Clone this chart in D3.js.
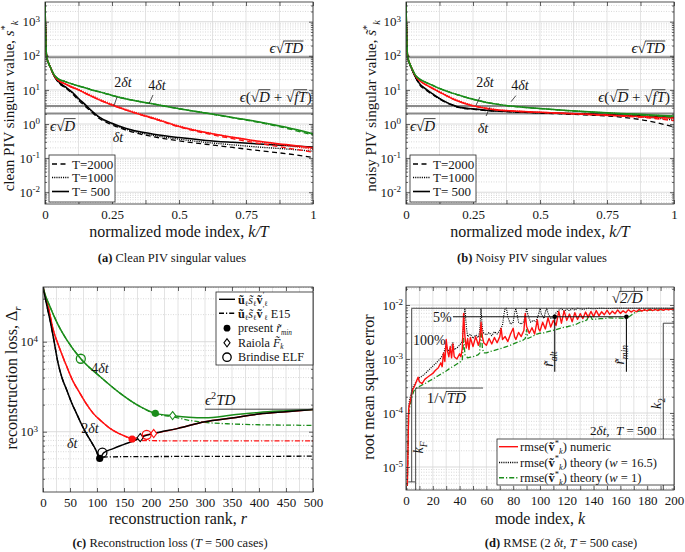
<!DOCTYPE html>
<html><head><meta charset="utf-8">
<script src="https://cdn.jsdelivr.net/npm/d3@7"></script>
<style>body{margin:0;background:#fff} text{white-space:pre}</style>
</head><body><svg id="c" width="685" height="552"></svg>
<script>
// ---------------- DATA ----------------
// panels (a),(b): normalized mode index k/T
const kT=[0,0.002,0.005,0.0075,0.012,0.02,0.035,0.05,0.075,0.1,0.125,0.15,0.175,0.2,0.25,0.3,0.35,0.4,0.5,0.6,0.7,0.8,0.9,1.0];
// (a) clean singular values
const aBlk500 =[3700,600,120,85,65,46,25,17.5,12.5,8.8,5.6,3.7,2.4,1.65,1.05,0.75,0.6,0.51,0.4,0.33,0.29,0.26,0.235,0.21];
const aBlk1000=[3700,600,120,85,65,46,25,17,12,8.4,5.3,3.5,2.3,1.58,1.0,0.71,0.56,0.47,0.36,0.29,0.245,0.21,0.185,0.16];
const aBlk2000=[3700,600,120,85,65,46,25,16.5,11.6,8.0,5.0,3.3,2.2,1.5,0.95,0.67,0.52,0.43,0.32,0.255,0.205,0.165,0.135,0.105];
const aRed500 =[3700,600,120,85,65,46,26,19,15,12,10,8,6.4,5.2,3.6,2.6,1.95,1.5,0.85,0.56,0.41,0.31,0.25,0.2];
const aRed1000=[3700,600,120,85,65,46,26,19.3,15.4,12.5,10.4,8.4,6.8,5.5,3.8,2.75,2.05,1.57,0.88,0.57,0.41,0.3,0.235,0.18];
const aRed2000=[3700,600,120,85,65,46,26,19,15,12,10,8,6.4,5.2,3.6,2.6,1.93,1.47,0.82,0.53,0.37,0.27,0.2,0.15];
const aGrn500 =[3700,600,120,85,65,46,27,21,17.5,15,13,11.5,10,8.9,6.9,5.5,4.6,3.9,2.8,2.1,1.55,1.15,0.8,0.52];
const aGrn1000=[3700,600,120,85,65,46,27,21,17.6,15.1,13.1,11.6,10.1,9.0,7.0,5.6,4.65,3.95,2.83,2.1,1.55,1.13,0.78,0.5];
const aGrn2000=[3700,600,120,85,65,46,27,21,17.5,15,13,11.5,10,8.9,6.9,5.5,4.6,3.9,2.8,2.08,1.52,1.1,0.75,0.47];
// (b) noisy singular values
const bBlk500 =[3700,600,120,85,62,44,24,15.5,10.5,7.6,5.6,4.4,3.6,3.1,2.8,2.55,2.4,2.3,2.15,2.05,1.95,1.85,1.7,1.55];
const bBlk1000=[3700,600,120,85,62,44,24,15,10.2,7.4,5.5,4.3,3.55,3.05,2.75,2.5,2.37,2.27,2.12,2.0,1.88,1.75,1.57,1.3];
const bBlk2000=[3700,600,120,85,62,44,24,14.5,9.8,7.2,5.4,4.2,3.5,3.0,2.7,2.47,2.35,2.25,2.1,1.95,1.8,1.6,1.25,0.82];
const bRed500 =[3700,600,120,85,65,46,26,19,14,11,8.6,6.8,5.4,4.5,3.4,2.85,2.55,2.4,2.2,2.05,1.9,1.75,1.62,1.5];
const bRed1000=[3700,600,120,85,65,46,26,19.3,14.4,11.4,9,7.1,5.7,4.7,3.55,2.95,2.6,2.43,2.22,2.07,1.91,1.76,1.6,1.42];
const bRed2000=[3700,600,120,85,65,46,26,19,14,11,8.6,6.8,5.4,4.5,3.4,2.85,2.55,2.38,2.18,2.02,1.86,1.7,1.52,1.25];
const bGrn500 =[3700,600,120,85,65,46,27,21,16.5,13.5,11,9.3,7.9,6.9,5.3,4.3,3.7,3.3,2.85,2.5,2.25,2.05,1.88,1.72];
const bGrn1000=[3700,600,120,85,65,46,27,21,16.6,13.6,11.1,9.4,8.0,7.0,5.35,4.35,3.72,3.3,2.85,2.5,2.24,2.03,1.85,1.68];
const bGrn2000=[3700,600,120,85,65,46,27,21,16.5,13.5,11,9.3,7.9,6.9,5.3,4.3,3.7,3.28,2.82,2.47,2.2,1.98,1.78,1.58];
// reference levels (a),(b)
const levelTD=90, levelDfT=3.4, levelD=2.05;

// (c) reconstruction loss vs rank r (T=500)
const cBlkR    =[0,5,10,13,20,28,35,44,53,62,71,80,90,98,105,112,130,150,170,180,190,205,250,300,350,400,450,500];
const cBlkSolid=[40000,29000,21000,17400,10500,5750,4000,2900,2100,1600,1220,960,760,625,505,580,650,723,802,860,905,955,1090,1290,1420,1570,1670,1770];
const cBlkDashR=[0,5,10,13,20,28,35,44,53,62,71,80,90,98,105,120,150,200,300,400,500];
const cBlkDash =[40000,29000,21000,17400,10500,5750,4000,2900,2100,1600,1220,960,760,625,520,525,528,530,532,533,535];
const cRedR    =[0,5,10,19,30,44,55,68.5,80,93,110,124,140,155,165,180,192,205,250,300,350,400,450,500];
const cRedSolid=[40000,31000,24000,13500,8700,5300,3700,2670,2050,1600,1280,1090,960,880,830,880,925,955,1090,1290,1420,1570,1670,1770];
const cRedDashR=[0,5,10,19,30,44,55,68.5,80,93,110,124,140,155,165,180,200,300,400,500];
const cRedDash =[40000,31000,24000,13500,8700,5300,3700,2670,2050,1600,1280,1090,960,870,820,800,795,790,790,790];
const cGrnR    =[0,5,13,20,28,44,70,106,143,180,208,240,270,300,350,400,450,500];
const cGrnSolid=[40000,32000,24500,19500,15400,10500,6470,4080,2670,1900,1600,1510,1450,1430,1530,1640,1710,1770];
const cGrnDash =[40000,32000,24500,19500,15400,10500,6470,4080,2670,1900,1580,1470,1340,1270,1220,1195,1185,1175];
const cMinR=[105,165,208],  cMinV=[505,830,1600];       // present r_min
const cRaiR=[180,205,240],  cRaiV=[860,955,1510];       // Raiola F_k
const cBriR=[110,192,70],   cBriV=[585,925,6470];       // Brindise ELF
const cLevelTD=1780;

// (d) RMSE vs mode index k, [k, value]
const dNumeric=[[1,4.5e-6],[2,1.2e-4],[3,1.6e-4],[4,2.1e-4],[5,2.7e-4],[6,3.0e-4],[7,3.4e-4],[8,4.0e-4],[9,4.6e-4],[10,3.8e-4],[12,3.5e-4],[14,4.2e-4],[16,4.6e-4],[18,5.0e-4],[20,5.4e-4],[22,6.2e-4],[24,6.8e-4],[26,8.5e-4],[27,7.2e-4],[28,1.3e-3],[29,9e-4],[30,2.3e-3],[31,1.4e-3],[32,1.1e-3],[33,1.7e-3],[34,1.05e-3],[35,1.9e-3],[36,1.1e-3],[38,1.0e-3],[40,1.25e-3],[41,1.1e-3],[42,1.6e-3],[43,7.0e-3],[44,2.6e-3],[45,1.6e-3],[46,2.4e-3],[47,1.5e-3],[48,2.5e-3],[50,1.7e-3],[52,2.6e-3],[54,1.8e-3],[55,2.2e-3],[56,4.8e-3],[57,2.6e-3],[58,2.0e-3],[60,1.8e-3],[62,2.4e-3],[64,1.9e-3],[66,2.5e-3],[68,2.0e-3],[70,2.6e-3],[71,3.7e-3],[72,2.3e-3],[74,2.6e-3],[76,2.1e-3],[78,2.9e-3],[80,3.7e-3],[81,2.6e-3],[82,2.3e-3],[84,3.1e-3],[86,2.6e-3],[88,3.4e-3],[89,7.0e-3],[90,4.0e-3],[92,3.0e-3],[94,3.8e-3],[96,2.9e-3],[98,5.3e-3],[99,3.6e-3],[100,3.3e-3],[102,4.8e-3],[104,3.6e-3],[106,5.8e-3],[108,3.9e-3],[110,5.2e-3],[112,4.2e-3],[114,7.6e-3],[116,4.6e-3],[118,7.8e-3],[120,5.2e-3],[122,6.8e-3],[124,4.9e-3],[126,7.2e-3],[128,5.4e-3],[130,6.9e-3],[132,5.6e-3],[134,7.4e-3],[136,5.9e-3],[138,7.6e-3],[140,6.1e-3],[142,7.9e-3],[144,6.3e-3],[146,7.5e-3],[148,6.6e-3],[150,8.0e-3],[152,6.7e-3],[154,7.7e-3],[156,6.9e-3],[158,8.1e-3],[160,7.0e-3],[162,7.8e-3],[164,7.2e-3],[166,8.2e-3],[168,7.4e-3],[170,8.0e-3],[172,7.5e-3],[174,8.3e-3],[176,7.7e-3],[178,8.2e-3],[180,7.8e-3],[182,8.4e-3],[184,7.9e-3],[186,8.3e-3],[188,7.9e-3],[190,8.4e-3],[192,8.0e-3],[194,8.4e-3],[196,8.1e-3],[198,8.5e-3],[200,8.2e-3]];
const dTheoryW16=[[1,4.5e-6],[2,1.4e-4],[3,1.9e-4],[4,2.4e-4],[5,2.9e-4],[6,3.3e-4],[8,3.9e-4],[10,4.5e-4],[12,4.8e-4],[14,5.3e-4],[16,5.9e-4],[18,6.6e-4],[20,7.4e-4],[22,8.2e-4],[24,9.2e-4],[26,1.05e-3],[28,1.25e-3],[30,1.9e-3],[31,1.4e-3],[33,1.55e-3],[35,2.0e-3],[36,1.5e-3],[38,1.6e-3],[40,1.8e-3],[42,2.1e-3],[43,4.5e-3],[44,8.7e-3],[45,4.0e-3],[46,2.6e-3],[48,2.9e-3],[50,2.4e-3],[52,2.8e-3],[54,2.5e-3],[55,3.2e-3],[56,8.7e-3],[57,3.6e-3],[58,3.0e-3],[60,2.8e-3],[62,3.1e-3],[64,2.7e-3],[66,3.2e-3],[68,2.9e-3],[70,3.4e-3],[72,4.2e-3],[73,6.5e-3],[74,8.7e-3],[75,8.7e-3],[76,6.0e-3],[78,4.4e-3],[80,4.8e-3],[81,7.0e-3],[82,8.7e-3],[83,6.5e-3],[84,4.8e-3],[86,4.4e-3],[88,5.0e-3],[89,6.5e-3],[90,8.7e-3],[91,6.5e-3],[93,4.8e-3],[95,5.2e-3],[97,4.9e-3],[99,6.8e-3],[100,8.7e-3],[101,6.8e-3],[103,5.6e-3],[104,7.5e-3],[105,8.7e-3],[106,7.0e-3],[108,5.6e-3],[110,5.9e-3],[112,7.2e-3],[114,8.0e-3],[116,8.7e-3],[118,7.6e-3],[120,8.4e-3],[122,7.8e-3],[124,8.6e-3],[126,8.0e-3],[128,8.7e-3],[132,8.3e-3],[136,8.7e-3],[140,8.5e-3],[145,8.7e-3],[150,8.6e-3],[160,8.7e-3],[170,8.7e-3],[180,8.7e-3],[190,8.7e-3],[200,8.7e-3]];
const dTheoryW1=[[1,4.5e-6],[2,1.0e-4],[3,1.4e-4],[4,1.8e-4],[5,2.2e-4],[6,2.6e-4],[8,2.9e-4],[10,3.1e-4],[12,3.3e-4],[15,3.6e-4],[18,4.0e-4],[21,4.4e-4],[24,4.9e-4],[27,5.4e-4],[30,6.0e-4],[33,6.8e-4],[36,7.5e-4],[39,8.4e-4],[41,9.0e-4],[42,9.5e-4],[43,2.4e-3],[44,1.2e-3],[46,1.05e-3],[48,1.08e-3],[50,1.1e-3],[52,1.15e-3],[54,1.2e-3],[55,1.3e-3],[56,4.3e-3],[57,1.6e-3],[58,1.3e-3],[60,1.3e-3],[63,1.38e-3],[66,1.45e-3],[69,1.52e-3],[72,1.6e-3],[75,1.7e-3],[78,1.8e-3],[81,1.95e-3],[84,2.1e-3],[87,2.2e-3],[89,2.4e-3],[90,3.5e-3],[91,2.4e-3],[94,2.6e-3],[97,2.85e-3],[100,3.0e-3],[103,3.05e-3],[106,3.2e-3],[109,3.35e-3],[112,3.5e-3],[115,3.7e-3],[118,3.85e-3],[121,4.0e-3],[124,4.2e-3],[127,4.4e-3],[130,4.8e-3],[133,5.0e-3],[135,5.3e-3],[137,6.8e-3],[139,5.4e-3],[142,5.5e-3],[145,5.6e-3],[148,5.6e-3],[152,5.8e-3],[156,5.7e-3],[160,5.7e-3],[164,5.6e-3],[167,6.2e-3],[170,7.0e-3],[173,7.6e-3],[176,7.9e-3],[180,8.0e-3],[185,8.1e-3],[190,8.2e-3],[195,8.3e-3],[200,8.3e-3]];
const dLevelTop=0.0087, dLevelTD=2.9e-4, dLevel5=6.05e-3, dLevelK2=0.0046;
const dRalt=111, dRmin=164.5, dKF=7.2, dK2=192, dKtop=4.25;

// ---------------- RENDER ----------------
const FONT='"Liberation Serif","DejaVu Serif",serif';
const svg=d3.select('#c').style('font-family',FONT);
svg.append('rect').attr('width',685).attr('height',552).attr('fill','#fff');
const COL={k:'#000',r:'#ff1010',g:'#1a8c1a'};
const TXT='#151515', AX='#262626';

function mtext(parent,x,y,segs,o={}){
  const size=o.size||14, anchor=o.anchor||'start';
  const ss=o.subScale||0.68, sd=o.subDy||0.26;
  const outer=parent.append('g').attr('transform',`translate(${x},${y})`+(o.rot?` rotate(${o.rot})`:''));
  const inner=outer.append('g');
  let cx=0; const overs=[];
  segs.forEach(s=>{
    const small=s.sup||s.sub;
    const fs=small?size*ss:size;
    const dy=s.sup?-size*0.42:(s.sub?size*sd:0);
    const t=inner.append('text').attr('x',cx+(s.dx||0)).attr('y',dy).attr('font-size',fs)
      .attr('font-style',s.it?'italic':'normal').attr('font-weight',s.b?'bold':'normal')
      .attr('fill',TXT).text(s.t);
    const w=t.node().getComputedTextLength();
    if(s.over) overs.push([cx,cx+w]);
    if(!s.noadv) cx+=w+(s.dx||0);
  });
  overs.forEach(([a,b])=>inner.append('line').attr('x1',a-0.6).attr('x2',b+0.4)
    .attr('y1',-size*0.80).attr('y2',-size*0.80).attr('stroke',TXT).attr('stroke-width',0.8));
  const off=anchor==='middle'?-cx/2:anchor==='end'?-cx:0;
  inner.attr('transform',`translate(${off},0)`);
  return outer;
}

let clipId=0;
function makePanel(b,xDom,yDom,xgrid){
  const x=d3.scaleLinear().domain(xDom).range([b.l,b.r]);
  const y=d3.scaleLog().domain(yDom).range([b.b,b.t]);
  const g=svg.append('g');
  const lo=Math.floor(Math.log10(yDom[0])), hi=Math.ceil(Math.log10(yDom[1]));
  const majors=[],minors=[];
  for(let e=lo;e<=hi;e++){const d=Math.pow(10,e); if(d>=yDom[0]&&d<=yDom[1]) majors.push(d);
    for(let m=2;m<10;m++){const v=m*d; if(v>yDom[0]&&v<yDom[1]) minors.push(v);} }
  const grid=g.append('g');
  grid.selectAll('.mn').data(minors).join('line').attr('x1',b.l).attr('x2',b.r).attr('y1',d=>y(d)).attr('y2',d=>y(d))
    .attr('stroke','#c8c8c8').attr('stroke-width',0.7).attr('stroke-dasharray','1,1.5');
  grid.selectAll('.vg').data(xgrid).join('line').attr('x1',d=>x(d)).attr('x2',d=>x(d)).attr('y1',b.t).attr('y2',b.b)
    .attr('stroke','#dcdcdc').attr('stroke-width',0.8);
  grid.selectAll('.mj').data(majors).join('line').attr('x1',b.l).attr('x2',b.r).attr('y1',d=>y(d)).attr('y2',d=>y(d))
    .attr('stroke','#d6d6d6').attr('stroke-width',0.9);
  const id='clip'+(clipId++);
  svg.append('clipPath').attr('id',id).append('rect').attr('x',b.l).attr('y',b.t).attr('width',b.r-b.l).attr('height',b.b-b.t);
  const data=svg.append('g').attr('clip-path',`url(#${id})`);
  return {x,y,b,majors,minors,data};
}
function curve(p,xs,ys,color,dash,w,cv){
  const line=d3.line().x((d,i)=>p.x(xs[i])).y(d=>p.y(d)).curve(cv||d3.curveMonotoneX);
  p.data.append('path').attr('d',line(ys)).attr('fill','none').attr('stroke',color)
    .attr('stroke-width',w||1.4).attr('stroke-dasharray',dash||null).attr('stroke-linejoin','round');
}
function pairCurve(p,pairs,color,dash,w){
  const line=d3.line().x(d=>p.x(d[0])).y(d=>p.y(d[1]));
  p.data.append('path').attr('d',line(pairs)).attr('fill','none').attr('stroke',color)
    .attr('stroke-width',w||1.3).attr('stroke-dasharray',dash||null).attr('stroke-linejoin','round');
}
function seg(p,x1,y1,x2,y2,color,w,parent){
  (parent||svg).append('line').attr('x1',p.x(x1)).attr('x2',p.x(x2)).attr('y1',p.y(y1)).attr('y2',p.y(y2))
    .attr('stroke',color).attr('stroke-width',w);
}
function frame(p,xticks,xfmt,ypad){
  const {x,y,b}=p; const ax=svg.append('g');
  ax.append('g').attr('transform',`translate(0,${b.b})`).call(d3.axisBottom(x).tickValues(xticks).tickSize(-4).tickPadding(6).tickFormat(xfmt));
  ax.append('g').attr('transform',`translate(0,${b.t})`).call(d3.axisTop(x).tickValues(xticks).tickSize(-4).tickFormat(''));
  const left=ax.append('g').attr('transform',`translate(${b.l},0)`).call(d3.axisLeft(y).tickValues(p.majors).tickSize(-4).tickPadding(ypad||5).tickFormat(''));
  ax.append('g').attr('transform',`translate(${b.r},0)`).call(d3.axisRight(y).tickValues(p.majors).tickSize(-4).tickFormat(''));
  ax.append('g').attr('transform',`translate(${b.l},0)`).call(d3.axisLeft(y).tickValues(p.minors).tickSize(-2).tickFormat(''));
  ax.append('g').attr('transform',`translate(${b.r},0)`).call(d3.axisRight(y).tickValues(p.minors).tickSize(-2).tickFormat(''));
  ax.selectAll('.domain').remove();
  ax.selectAll('.tick line').attr('stroke',AX).attr('stroke-width',0.7);
  ax.selectAll('text').attr('font-size',13).attr('font-family',FONT).attr('fill',TXT);
  left.selectAll('.tick text').each(function(d){const e=Math.round(Math.log10(d)); const t=d3.select(this);
    t.text('10'); t.append('tspan').attr('dy','-0.5em').attr('font-size',9).text(e<0?'-'+(-e):''+e);});
  ax.append('rect').attr('x',b.l).attr('y',b.t).attr('width',b.r-b.l).attr('height',b.b-b.t)
    .attr('fill','none').attr('stroke',AX).attr('stroke-width',0.8);
}
function legendBox(x0,y0,x1,y1){
  svg.append('rect').attr('x',x0).attr('y',y0).attr('width',x1-x0).attr('height',y1-y0).attr('fill','#fff').attr('stroke',AX).attr('stroke-width',0.8);
}
const dt=(pre)=>[{t:pre},{t:'δt',it:1}];
const DASHES=['5,3.5','1.1,1.1',null];

// ===== (a) and (b) =====
const abY=[0.00451,3784];
const abTicks=d3.range(0,1.0001,0.125);
const abFmt=d=>Math.abs(d*4-Math.round(d*4))<1e-9?String(+d.toFixed(2)):'';
function panelAB(b,sets,lab){
  const p=makePanel(b,[0,1],abY,abTicks);
  [levelTD,levelDfT,levelD].forEach(v=>p.data.append('line').attr('x1',b.l).attr('x2',b.r).attr('y1',p.y(v)).attr('y2',p.y(v)).attr('stroke','#8a8a8a').attr('stroke-width',2));
  sets.forEach(([arrs,c])=>arrs.forEach((a,i)=>curve(p,kT,a,c,DASHES[i],i===2?1.5:1.3)));
  const g=svg.append('g');
  mtext(g,p.x(lab.td[0]),p.y(lab.td[1]),[{t:'ϵ',it:1},{t:'√'},{t:'TD',it:1,over:1}],{size:15,anchor:'end'});
  mtext(g,p.x(lab.dft[0]),p.y(lab.dft[1]),[{t:'ϵ',it:1},{t:'('},{t:'√'},{t:'D',it:1,over:1},{t:' + '},{t:'√'},{t:'fT',it:1,over:1},{t:')'}],{size:15,anchor:'end'});
  mtext(g,p.x(lab.d[0]),p.y(lab.d[1]),[{t:'ϵ',it:1},{t:'√'},{t:'D',it:1,over:1}],{size:15});
  mtext(g,p.x(lab.t2[0]),p.y(lab.t2[1]),dt('2'),{size:14,anchor:'middle'});
  mtext(g,p.x(lab.t4[0]),p.y(lab.t4[1]),dt('4'),{size:14,anchor:'middle'});
  mtext(g,p.x(lab.t1[0]),p.y(lab.t1[1]),dt(''),{size:14,anchor:'middle'});
  lab.leaders.forEach(l=>seg(p,l[0],l[1],l[2],l[3],'#222',0.8,g));
  return p;
}
const A={l:45,r:313,t:2,b:204}, B={l:406,r:674,t:2,b:204};
const pa=panelAB(A,[[[aBlk2000,aBlk1000,aBlk500],COL.k],[[aRed2000,aRed1000,aRed500],COL.r],[[aGrn2000,aGrn1000,aGrn500],COL.g]],
  {td:[0.963,121],dft:[0.995,4.5],d:[0.019,0.64],t2:[0.291,12.2],t4:[0.418,10],t1:[0.272,0.3],
   leaders:[[0.269,6.2,0.257,3.4],[0.403,7.1,0.388,3.9]]});
const pb=panelAB(B,[[[bBlk2000,bBlk1000,bBlk500],COL.k],[[bRed2000,bRed1000,bRed500],COL.r],[[bGrn2000,bGrn1000,bGrn500],COL.g]],
  {td:[0.966,121],dft:[0.985,4.5],d:[0.015,0.64],t2:[0.295,12.2],t4:[0.425,10],t1:[0.287,0.54],
   leaders:[[0.276,6.2,0.261,3.5],[0.41,6.8,0.392,4.5],[0.299,1.72,0.313,3.1]]});
frame(pa,abTicks,abFmt); frame(pb,abTicks,abFmt);
[[A,0],[B,361]].forEach(([b,dx])=>{
  legendBox(49+dx,155,115+dx,202);
  ['T=2000','T=1000','T= 500'].forEach((s,i)=>{
    const yy=[164,177.5,191.5][i];
    svg.append('line').attr('x1',52+dx).attr('x2',69+dx).attr('y1',yy).attr('y2',yy).attr('stroke','#000').attr('stroke-width',i===2?1.6:1.3).attr('stroke-dasharray',DASHES[i]);
    svg.append('text').attr('x',72+dx).attr('y',yy+4.5).attr('font-size',13).attr('fill',TXT).text(s);
  });
});
mtext(svg,14,106,[{t:'clean PIV singular value, '},{t:'s',it:1},{t:'*',sup:1},{t:'k',sub:1,it:1}],{size:15,anchor:'middle',rot:-90});
mtext(svg,376,106,[{t:'noisy PIV singular value, '},{t:'s̃',it:1},{t:'*',sup:1},{t:'k',sub:1,it:1}],{size:15,anchor:'middle',rot:-90});
mtext(svg,179,237,[{t:'normalized mode index, '},{t:'k/T',it:1}],{size:16,anchor:'middle'});
mtext(svg,540,237,[{t:'normalized mode index, '},{t:'k/T',it:1}],{size:16,anchor:'middle'});
mtext(svg,172,262,[{t:'(a)',b:1},{t:' Clean PIV singular values'}],{size:12.5,anchor:'middle'});
mtext(svg,532,262,[{t:'(b)',b:1},{t:' Noisy PIV singular values'}],{size:12.5,anchor:'middle'});

// ===== (c) =====
const C={l:43,r:313,t:287,b:492};
const pc=makePanel(C,[0,500],[214,40550],d3.range(0,501,25));
curve(pc,cBlkDashR,cBlkDash,COL.k,'5,2,1.2,2',1.3);
curve(pc,cRedDashR,cRedDash,COL.r,'5,2,1.2,2',1.3);
curve(pc,cGrnR,cGrnDash,COL.g,'5,2,1.2,2',1.3);
curve(pc,cRedR,cRedSolid,COL.r,null,1.5);
curve(pc,cGrnR,cGrnSolid,COL.g,null,1.5);
curve(pc,cBlkR,cBlkSolid,COL.k,null,1.5);
seg(pc,300,cLevelTD,500,cLevelTD,'#333',0.9);
const mc=[COL.k,COL.r,COL.g];
cMinR.forEach((r,i)=>svg.append('circle').attr('cx',pc.x(r)).attr('cy',pc.y(cMinV[i])).attr('r',3.6).attr('fill',mc[i]));
cRaiR.forEach((r,i)=>svg.append('path').attr('d',d3.symbol(d3.symbolDiamond2,42)()).attr('transform',`translate(${pc.x(r)},${pc.y(cRaiV[i])}) scale(0.75,1)`).attr('fill','#fff').attr('stroke',mc[i]).attr('stroke-width',1.3));
cBriR.forEach((r,i)=>svg.append('circle').attr('cx',pc.x(r)).attr('cy',pc.y(cBriV[i])).attr('r',4.5).attr('fill','none').attr('stroke',mc[i]).attr('stroke-width',1.3));
mtext(svg,pc.x(105.5),pc.y(4490),dt('4'),{size:14,anchor:'middle'});
mtext(svg,pc.x(87),pc.y(968),dt('2'),{size:14,anchor:'middle'});
mtext(svg,pc.x(54),pc.y(659),dt(''),{size:14,anchor:'middle'});
mtext(svg,pc.x(300),pc.y(1980),[{t:'ϵ',it:1},{t:'2',sup:1},{t:'TD',it:1}],{size:15});
frame(pc,d3.range(0,501,50),d3.format('d'));
legendBox(216,292,313,365);
const legC=[
  {y:299.3,seg:[{t:'ũ',b:1},{t:'ℓ',sub:1},{t:'s̃',it:1},{t:'ℓ',sub:1},{t:'ṽ',b:1},{t:'′',sup:1},{t:'ℓ',sub:1}],line:null},
  {y:313.3,seg:[{t:'ũ',b:1},{t:'ℓ',sub:1},{t:'s̃',it:1},{t:'ℓ',sub:1},{t:'ṽ',b:1},{t:'′',sup:1},{t:'ℓ',sub:1},{t:' E15'}],line:'5,2,1.2,2'},
  {y:328.2,seg:[{t:'present '},{t:'r̃',it:1},{t:'min',sub:1,it:1}],m:'dot'},
  {y:342.8,seg:[{t:'Raiola '},{t:'F̃',it:1},{t:'k',sub:1,it:1}],m:'dia'},
  {y:357.2,seg:[{t:'Brindise ELF'}],m:'circ'}];
legC.forEach((e,i)=>{
  if(i<2) svg.append('line').attr('x1',219).attr('x2',235).attr('y1',e.y).attr('y2',e.y).attr('stroke','#000').attr('stroke-width',1.4).attr('stroke-dasharray',e.line);
  if(e.m==='dot') svg.append('circle').attr('cx',227).attr('cy',e.y).attr('r',3.4).attr('fill','#000');
  if(e.m==='dia') svg.append('path').attr('d',d3.symbol(d3.symbolDiamond2,42)()).attr('transform',`translate(227,${e.y}) scale(0.75,1)`).attr('fill','#fff').attr('stroke','#000').attr('stroke-width',1.3);
  if(e.m==='circ') svg.append('circle').attr('cx',227).attr('cy',e.y).attr('r',4.2).attr('fill','none').attr('stroke','#000').attr('stroke-width',1.3);
  mtext(svg,238,e.y+4.2,e.seg,{size:12.2,subScale:0.6,subDy:0.18});
});
mtext(svg,17,378,[{t:'reconstruction loss, Δ'},{t:'r',sub:1,it:1}],{size:16,anchor:'middle',rot:-90});
mtext(svg,178,524,[{t:'reconstruction rank, '},{t:'r',it:1}],{size:16,anchor:'middle'});
mtext(svg,170,547,[{t:'(c)',b:1},{t:' Reconstruction loss ('},{t:'T',it:1},{t:' = 500 cases)'}],{size:12.5,anchor:'middle'});

// ===== (d) =====
const D={l:406,r:674,t:287,b:490};
const pd=makePanel(D,[0,200],[3.75e-6,0.02155],d3.range(0,201,10));
const ann=svg.append('g');
pairCurve(pd,dTheoryW1,COL.g,'5,2,1.2,2',1.3);
pairCurve(pd,dTheoryW16,'#000','1.1,1.1',1.1);
pairCurve(pd,dNumeric,COL.r,null,1.4);
// annotations
seg(pd,dKtop,5.3e-6,dKtop,dLevelTop,'#333',0.9,ann);
seg(pd,1.7,5.3e-6,6.7,5.3e-6,'#333',0.9,ann);
seg(pd,dKtop,dLevelTop,200,dLevelTop,'#333',0.9,ann);
seg(pd,dKF,3.75e-6,dKF,dLevelTD,'#333',0.9,ann);
seg(pd,dKF,dLevelTD,57.5,dLevelTD,'#333',0.9,ann);
seg(pd,35,dLevel5,dRmin,dLevel5,'#111',1.1,ann);
seg(pd,dRalt,dLevel5,dRalt,5.8e-4,'#111',1.1,ann);
seg(pd,dRmin,dLevel5,dRmin,5.8e-4,'#111',1.1,ann);
seg(pd,dK2,3.75e-6,dK2,dLevelK2,'#333',0.9,ann);
seg(pd,dK2,dLevelK2,200,dLevelK2,'#333',0.9,ann);
[dRalt,dRmin].forEach(k=>ann.append('circle').attr('cx',pd.x(k)).attr('cy',pd.y(dLevel5)).attr('r',2.3).attr('fill','#000'));
mtext(svg,pd.x(165),pd.y(0.0107),[{t:'√'},{t:'2/D',it:1,over:1}],{size:15,anchor:'middle'});
mtext(svg,pd.x(34),pd.y(4.8e-3),[{t:'5%'}],{size:14,anchor:'end'});
mtext(svg,pd.x(5.3),pd.y(1.8e-3),[{t:'100%'}],{size:14});
mtext(svg,pd.x(15.5),pd.y(1.5e-4),[{t:'1/'},{t:'√'},{t:'TD',it:1,over:1}],{size:15});
mtext(svg,pd.x(13),pd.y(2.3e-5),[{t:'k',it:1},{t:'F',sub:1,it:1}],{size:14,anchor:'middle',rot:-90});
mtext(svg,pd.x(110),pd.y(1.0e-3),[{t:'r̃',it:1},{t:'alt',sub:1,it:1}],{size:14,anchor:'middle',rot:-90});
mtext(svg,pd.x(163),pd.y(1.2e-3),[{t:'r̃',it:1},{t:'min',sub:1,it:1}],{size:14,anchor:'middle',rot:-90});
mtext(svg,pd.x(190.5),pd.y(1.5e-4),[{t:'k',it:1},{t:'2',sub:1}],{size:14,anchor:'middle',rot:-90});
mtext(svg,pd.x(187),pd.y(3.9e-5),[{t:'2'},{t:'δt',it:1},{t:',  '},{t:'T',it:1},{t:' = 500'}],{size:13,anchor:'end'});
frame(pd,d3.range(0,201,10),d=>d%20===0?String(d):'',3);
legendBox(497,439,674,485);
const vk=[{t:'rmse('},{t:'ṽ',b:1},{t:'*',sup:1},{t:'k',sub:1,it:1}];
[[COL.r,null,[...vk,{t:') numeric'}]],
 ['#000','1.1,1.1',[...vk,{t:') theory ('},{t:'w',it:1},{t:' = 16.5)'}]],
 [COL.g,'5,2,1.2,2',[...vk,{t:') theory ('},{t:'w',it:1},{t:' = 1)'}]]].forEach((e,i)=>{
  const yy=[446.7,462.5,477.7][i];
  svg.append('line').attr('x1',499).attr('x2',518).attr('y1',yy).attr('y2',yy).attr('stroke',e[0]).attr('stroke-width',1.4).attr('stroke-dasharray',e[1]);
  mtext(svg,520,yy+4.2,e[2],{size:12.5});
});
mtext(svg,374,387,[{t:'root mean square error'}],{size:16,anchor:'middle',rot:-90});
mtext(svg,540,524,[{t:'mode index, '},{t:'k',it:1}],{size:16,anchor:'middle'});
mtext(svg,561,547,[{t:'(d)',b:1},{t:' RMSE (2 '},{t:'δt',it:1},{t:', '},{t:'T',it:1},{t:' = 500 case)'}],{size:12.5,anchor:'middle'});
</script></body></html>
